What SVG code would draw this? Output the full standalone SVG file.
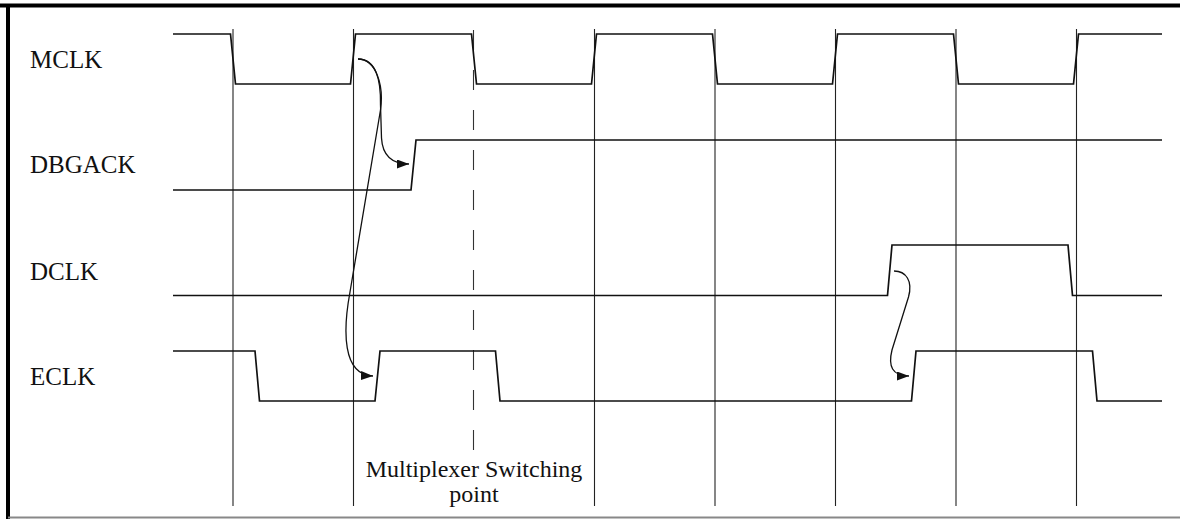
<svg xmlns="http://www.w3.org/2000/svg" width="1180" height="519" viewBox="0 0 1180 519">
  <style>
    .frame-thick { stroke: #000; stroke-width: 4; fill: none; }
    .frame-thin { stroke: #888; stroke-width: 2; fill: none; }
    .grid { stroke: #222; stroke-width: 1.1; fill: none; }
    .grid-dash { stroke: #333; stroke-width: 1.1; fill: none; stroke-dasharray: 20 20; }
    .wave { stroke: #111; stroke-width: 1.7; fill: none; stroke-linejoin: miter; }
    .arrow { stroke: #111; stroke-width: 1.3; fill: none; }
    .label { font-family: "Liberation Serif", "Times New Roman", serif; font-size: 25px; fill: #111; }
    .caption { font-family: "Liberation Serif", "Times New Roman", serif; font-size: 24px; fill: #111; text-anchor: middle; }
  </style>
  <defs>
    <marker id="ah" markerUnits="userSpaceOnUse" markerWidth="13" markerHeight="10" refX="12" refY="4.5" orient="auto">
      <path d="M0,0 L12,4.5 L0,9 z" fill="#111"/>
    </marker>
  </defs>
  <rect x="0" y="0" width="1180" height="519" fill="#fff"/>

  <g id="frame">
    <line class="frame-thick" x1="0" y1="5.5" x2="1180" y2="5.5"/>
    <line class="frame-thick" x1="8" y1="4" x2="8" y2="519"/>
    <line class="frame-thin" x1="8" y1="517.5" x2="1180" y2="517.5"/>
  </g>

  <g id="gridlines">
    <line class="grid" x1="233" y1="29" x2="233" y2="506"/>
    <line class="grid" x1="353.5" y1="29" x2="353.5" y2="506"/>
    <line class="grid-dash" x1="473.5" y1="30" x2="473.5" y2="450"/>
    <line class="grid" x1="594.5" y1="29" x2="594.5" y2="506"/>
    <line class="grid" x1="715" y1="29" x2="715" y2="506"/>
    <line class="grid" x1="835.5" y1="29" x2="835.5" y2="506"/>
    <line class="grid" x1="956" y1="29" x2="956" y2="506"/>
    <line class="grid" x1="1076.5" y1="29" x2="1076.5" y2="506"/>
  </g>

  <g id="MCLK">
    <text class="label" x="30" y="68">MCLK</text>
    <polyline class="wave" points="173,34 230.5,34 235.5,84 350.5,84 355.5,34 471.5,34 476.5,84 591.5,84 596.5,34 712.5,34 717.5,84 832.5,84 837.5,34 953.5,34 958.5,84 1073.5,84 1078.5,34 1162,34"/>
  </g>

  <g id="DBGACK">
    <text class="label" x="30" y="173">DBGACK</text>
    <polyline class="wave" points="173,190 411,190 416,140 1162,140"/>
  </g>

  <g id="DCLK">
    <text class="label" x="30" y="280">DCLK</text>
    <polyline class="wave" points="173,295.5 887.5,295.5 892,245 1068,245 1072.5,295.5 1162,295.5"/>
  </g>

  <g id="ECLK">
    <text class="label" x="30" y="385">ECLK</text>
    <polyline class="wave" points="173,351 255,351 259.5,401 375,401 380,351 495.5,351 500,401 911.5,401 916,351 1092.5,351 1097,401 1162,401"/>
  </g>

  <g id="switch-label">
    <text class="caption" x="474" y="477">Multiplexer Switching</text>
    <text class="caption" x="474" y="502">point</text>
  </g>

  <g id="connectors">
    <path class="arrow" marker-end="url(#ah)" d="M358,59 C376,59 381,80 380.5,105 L381.5,138 C382.5,156 392,164 409,164"/>
    <path class="arrow" marker-end="url(#ah)" d="M358,59 C376,59 384,85 380.5,110 L350,292 C343,330 342,375 373,376"/>
    <path class="arrow" marker-end="url(#ah)" d="M894,271 C906,271 913,281 908.5,297 L892,350 C888,366 892,376 909,376"/>
  </g>
</svg>
